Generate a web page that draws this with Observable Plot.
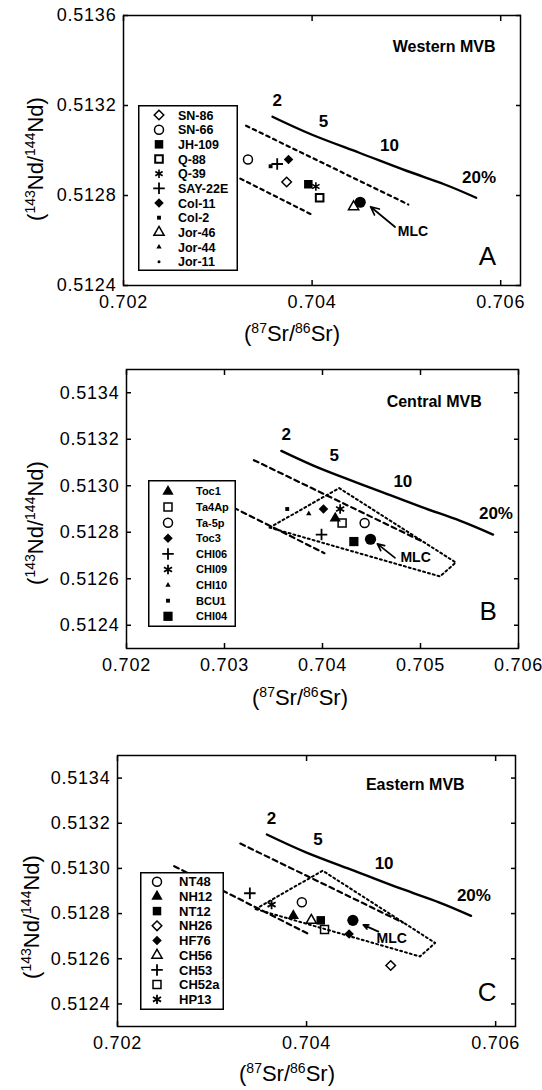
<!DOCTYPE html>
<html><head><meta charset="utf-8">
<script src="https://cdn.jsdelivr.net/npm/d3@7"></script>
<script src="https://cdn.jsdelivr.net/npm/@observablehq/plot@0.6"></script>
<style>
body{margin:0;background:#fff;}
#wrap{position:relative;width:542px;height:1090px;overflow:hidden;font-family:"Liberation Sans",Arial,sans-serif;background:#fff;}
.panel{position:absolute;left:0;}
.legend{position:absolute;overflow:visible;}
[aria-label="x-axis tick label"] text,[aria-label="y-axis tick label"] text{letter-spacing:0.8px;}
</style></head><body><div id="wrap"></div>
<script>
// ---------- shared model lines (87Sr/86Sr, 143Nd/144Nd) ----------
const curveSr = [0.70358, 0.70400, 0.70450, 0.70500, 0.70540, 0.70574];
const curveNd = [0.51315, 0.51307, 0.51299, 0.51291, 0.51285, 0.51279];
const mixLabels = ["2", "5", "10", "20%"];
const mixSr = [0.70363, 0.70412, 0.70482, 0.70577];
const mixNd = [0.51322, 0.51313, 0.51302, 0.51288];
const upperSr = [0.70330, 0.70502];
const upperNd = [0.51311, 0.51276];
const lowerSr = [0.70260, 0.70402];
const lowerNd = [0.51301, 0.51271];
const polySr = [0.70346, 0.70417, 0.70536, 0.70520, 0.70346];
const polyNd = [0.51282, 0.51299, 0.51267, 0.51261, 0.51282];

// ---------- Panel A : Western MVB ----------
const aSample = ["SN-86", "SN-66", "JH-109", "Q-88", "Q-39", "SAY-22E", "Col-11", "Col-2", "Jor-46", "MLC"];
const aSr = [0.70373, 0.70332, 0.70396, 0.70408, 0.70404, 0.70363, 0.70375, 0.70356, 0.70444, 0.70451];
const aNd = [0.51286, 0.51296, 0.51285, 0.51279, 0.51284, 0.51294, 0.51296, 0.51293, 0.51275, 0.51277];
const aLegend = ["SN-86", "SN-66", "JH-109", "Q-88", "Q-39", "SAY-22E", "Col-11", "Col-2", "Jor-46", "Jor-44", "Jor-11"];
const aXTicks = [0.702, 0.704, 0.706];
const aYTicks = [0.5124, 0.5128, 0.5132, 0.5136];

// ---------- Panel B : Central MVB ----------
const bSample = ["Toc1", "Ta4Ap", "Ta-5p", "Toc3", "CHI06", "CHI09", "CHI10", "BCU1", "CHI04", "MLC"];
const bSr = [0.70413, 0.70420, 0.70443, 0.70401, 0.70399, 0.70418, 0.70386, 0.70364, 0.70432, 0.70449];
const bNd = [0.51286, 0.51284, 0.51284, 0.51290, 0.51279, 0.51290, 0.51288, 0.51290, 0.51276, 0.51277];
const bLegend = ["Toc1", "Ta4Ap", "Ta-5p", "Toc3", "CHI06", "CHI09", "CHI10", "BCU1", "CHI04"];
const bXTicks = [0.702, 0.703, 0.704, 0.705, 0.706];
const bYTicks = [0.5124, 0.5126, 0.5128, 0.5130, 0.5132, 0.5134];

// ---------- Panel C : Eastern MVB ----------
const cSample = ["NT48", "NH12", "NT12", "NH26", "HF76", "CH56", "CH53", "CH52a", "HP13", "MLC"];
const cSr = [0.70395, 0.70386, 0.70415, 0.70489, 0.70445, 0.70405, 0.70340, 0.70419, 0.70363, 0.70449];
const cNd = [0.51285, 0.51279, 0.51277, 0.51257, 0.51271, 0.51277, 0.51289, 0.51273, 0.51284, 0.51277];
const cLegend = ["NT48", "NH12", "NT12", "NH26", "HF76", "CH56", "CH53", "CH52a", "HP13"];
const cXTicks = [0.702, 0.704, 0.706];
const cYTicks = [0.5124, 0.5126, 0.5128, 0.5130, 0.5132, 0.5134];

// MLC arrows and labels [label Sr, label Nd, arrow start Sr, Nd, arrow end Sr, Nd]
const aMLC = [0.70507, 0.51264, 0.70488, 0.51266, 0.70462, 0.51275];
const bMLC = [0.70495, 0.51269, 0.70474, 0.51269, 0.70456, 0.51275];
const cMLC = [0.70490, 0.51269, 0.70476, 0.51272, 0.70460, 0.51275];

const regionNames = ["Western MVB", "Central MVB", "Eastern MVB"];
const regionSr = [0.70540, 0.70514, 0.70515];
const regionNd = [0.51346, 0.51336, 0.51337];
const panelLetters = ["A", "B", "C"];
const letterSr = [0.70586, 0.70569, 0.70591];
const letterNd = [0.51253, 0.51246, 0.51245];

// ---------- symbol styles (by sample) ----------
const S = (symbol, filled, r, sw) => ({symbol, filled, r, sw: sw || 1.5});
const style = {
  "SN-86": S("diamond2", false, 4.3), "SN-66": S("circle", false, 4.5), "JH-109": S("square", true, 4.8),
  "Q-88": S("square", false, 4.3, 2), "Q-39": S("asterisk", false, 4, 1.6), "SAY-22E": S("plus", false, 3.8, 1.8),
  "Col-11": S("diamond2", true, 4.3), "Col-2": S("square", true, 2.2), "Jor-46": S("triangle", false, 3.8),
  "Jor-44": S("triangle", true, 2), "Jor-11": S("circle", true, 1.5),
  "Toc1": S("triangle", true, 4.2), "Ta4Ap": S("square", false, 4.5), "Ta-5p": S("circle", false, 4.5),
  "Toc3": S("diamond2", true, 4.3), "CHI06": S("plus", false, 3.8, 1.8), "CHI09": S("asterisk", false, 4.4, 1.8),
  "CHI10": S("triangle", true, 2), "BCU1": S("square", true, 2.2), "CHI04": S("square", true, 5.2),
  "NT48": S("circle", false, 4.5), "NH12": S("triangle", true, 4.2), "NT12": S("square", true, 4.8),
  "NH26": S("diamond2", false, 4.3), "HF76": S("diamond2", true, 4.3), "CH56": S("triangle", false, 3.8),
  "CH53": S("plus", false, 3.8, 1.8), "CH52a": S("square", false, 4.5), "HP13": S("asterisk", false, 4.4, 1.8),
  "MLC": S("circle", true, 5.6)
};

const FONT = "Liberation Sans, Arial, sans-serif";
const wrap = document.getElementById("wrap");

function pts(xs, ys) { return xs.map((x, i) => ({sr: x, nd: ys[i]})); }
const isFillShape = (sym) => sym === "square" || sym === "diamond2" || sym === "triangle" || sym === "circle";

function makePanel(cfg) {
  const rows = cfg.sample.map((s, i) => ({sample: s, sr: cfg.sr[i], nd: cfg.nd[i]}));
  const marks = [];
  if (cfg.poly) marks.push(Plot.line(pts(polySr, polyNd), {x: "sr", y: "nd", stroke: "black", strokeWidth: 2, strokeDasharray: "2,3"}));
  marks.push(Plot.line(pts(upperSr, upperNd), {x: "sr", y: "nd", stroke: "black", strokeWidth: 2.2, strokeDasharray: cfg.dash}));
  marks.push(Plot.line(pts(lowerSr, lowerNd), {x: "sr", y: "nd", stroke: "black", strokeWidth: 2.2, strokeDasharray: cfg.dash}));
  marks.push(Plot.line(pts(curveSr, curveNd), {x: "sr", y: "nd", stroke: "black", strokeWidth: 2.4, curve: "natural"}));
  marks.push(Plot.text(mixLabels.map((t, i) => ({t, sr: mixSr[i], nd: mixNd[i]})), {x: "sr", y: "nd", text: "t", fontSize: 17, fontWeight: "bold", fill: "black"}));
  for (const d of rows) {
    const st = style[d.sample];
    const filled = st.filled && isFillShape(st.symbol);
    marks.push(Plot.dot([d], {x: "sr", y: "nd", symbol: st.symbol, r: st.r,
      fill: filled ? "black" : "none", stroke: filled ? "none" : "black", strokeWidth: st.sw}));
  }
  const m = cfg.mlc;
  marks.push(Plot.arrow([{x1: m[2], y1: m[3], x2: m[4], y2: m[5]}], {x1: "x1", y1: "y1", x2: "x2", y2: "y2", stroke: "black", strokeWidth: 1.7, headLength: 8, headAngle: 50, bend: 0}));
  marks.push(Plot.text([{t: "MLC", sr: m[0], nd: m[1]}], {x: "sr", y: "nd", text: "t", fontSize: 14, fontWeight: "bold", fill: "black"}));
  marks.push(Plot.text([{t: regionNames[cfg.k], sr: regionSr[cfg.k], nd: regionNd[cfg.k]}], {x: "sr", y: "nd", text: "t", fontSize: 16, fontWeight: "bold", fill: "black"}));
  marks.push(Plot.text([{t: panelLetters[cfg.k], sr: letterSr[cfg.k], nd: letterNd[cfg.k]}], {x: "sr", y: "nd", text: "t", fontSize: 26, fill: "black"}));
  // axes
  const fx = d3.format(".3f"), fy = d3.format(".4f");
  marks.push(Plot.axisX({ticks: cfg.xTicks, anchor: "bottom", tickSize: 0, tickPadding: 10, tickFormat: fx, fontSize: 18, label: null}));
  marks.push(Plot.axisY({ticks: cfg.yTicks, anchor: "left", tickSize: 0, tickPadding: 7, tickFormat: fy, fontSize: 18, label: null}));
  for (const an of ["bottom", "top"]) marks.push(Plot.axisX({ticks: cfg.xTicks, anchor: an, tickSize: -5, strokeWidth: 1.5, tickFormat: () => "", label: null}));
  for (const an of ["left", "right"]) marks.push(Plot.axisY({ticks: cfg.yTicks, anchor: an, tickSize: -5, strokeWidth: 1.5, tickFormat: () => "", label: null}));
  marks.push(Plot.frame({stroke: "black", strokeWidth: 1.5}));

  const svg = Plot.plot({
    width: 542, height: cfg.height,
    marginTop: cfg.mt, marginBottom: cfg.mb, marginLeft: cfg.ml, marginRight: cfg.mr,
    x: {domain: cfg.xDomain, label: null},
    y: {domain: cfg.yDomain, label: null},
    style: {fontFamily: FONT, fontSize: "18px", color: "black", background: "transparent", overflow: "visible"},
    marks
  });
  svg.classList.add("panel");
  svg.style.top = cfg.top + "px";
  wrap.appendChild(svg);

  // axis titles with superscripts
  const s = d3.select(svg);
  const fs = 22, sup = 14, shift = 8;
  const xt = s.append("text").attr("x", cfg.xl[0]).attr("y", cfg.xl[1] + 0.35 * fs)
    .attr("text-anchor", "middle").attr("font-family", FONT).attr("font-size", fs).attr("fill", "black");
  xt.append("tspan").text("(");
  xt.append("tspan").attr("font-size", sup).attr("dy", -shift).text("87");
  xt.append("tspan").attr("dy", shift).text("Sr/");
  xt.append("tspan").attr("font-size", sup).attr("dy", -shift).text("86");
  xt.append("tspan").attr("dy", shift).text("Sr)");
  const yt = s.append("text").attr("transform", `translate(${cfg.yl[0] + 0.35 * fs},${cfg.yl[1]}) rotate(-90)`)
    .attr("text-anchor", "middle").attr("font-family", FONT).attr("font-size", fs).attr("fill", "black");
  yt.append("tspan").text("(");
  yt.append("tspan").attr("font-size", sup).attr("dy", -shift).text("143");
  yt.append("tspan").attr("dy", shift).text("Nd/");
  yt.append("tspan").attr("font-size", sup).attr("dy", -shift).text("144");
  yt.append("tspan").attr("dy", shift).text("Nd)");
}

const d3sym = {circle: d3.symbolCircle, square: d3.symbolSquare, diamond2: d3.symbolDiamond2,
  asterisk: d3.symbolAsterisk, plus: d3.symbolPlus, triangle: d3.symbolTriangle};

function makeLegend(L, names) {
  const svg = d3.select(wrap).append("svg").attr("class", "legend")
    .style("left", L.left + "px").style("top", L.top + "px")
    .attr("width", L.w).attr("height", L.h);
  svg.append("rect").attr("x", 0.75).attr("y", 0.75).attr("width", L.w - 1.5).attr("height", L.h - 1.5)
    .attr("fill", "white").attr("stroke", "black").attr("stroke-width", 1.5);
  names.forEach((n, i) => {
    const st = style[n];
    const cy = L.fy + i * L.rowH;
    const filled = st.filled && isFillShape(st.symbol);
    svg.append("path").attr("transform", `translate(${L.sx},${cy})`)
      .attr("d", d3.symbol(d3sym[st.symbol], Math.PI * st.r * st.r)())
      .attr("fill", filled ? "black" : "none").attr("stroke", filled ? "none" : "black").attr("stroke-width", st.sw);
    svg.append("text").attr("x", L.tx).attr("y", cy).attr("dy", "0.36em")
      .attr("font-family", FONT).attr("font-size", L.fs).attr("font-weight", "bold").attr("fill", "black").text(n);
  });
}

makePanel({k: 0, sample: aSample, sr: aSr, nd: aNd, top: 0, height: 350, mt: 15, mb: 65, ml: 123, mr: 22,
  xDomain: [0.702, 0.70621], yDomain: [0.5124, 0.5136], xTicks: aXTicks, yTicks: aYTicks,
  mlc: aMLC, poly: false, dash: "3.5,4", xl: [292, 333], yl: [35, 159]});
makePanel({k: 1, sample: bSample, sr: bSr, nd: bNd, top: 350, height: 370, mt: 19, mb: 72, ml: 126, mr: 24,
  xDomain: [0.702, 0.706], yDomain: [0.5123, 0.5135], xTicks: bXTicks, yTicks: bYTicks,
  mlc: bMLC, poly: true, dash: "5,4", xl: [300, 347], yl: [35, 173]});
makePanel({k: 2, sample: cSample, sr: cSr, nd: cNd, top: 720, height: 370, mt: 35, mb: 64, ml: 117, mr: 27,
  xDomain: [0.702, 0.70621], yDomain: [0.5123, 0.5135], xTicks: cXTicks, yTicks: cYTicks,
  mlc: cMLC, poly: true, dash: "5,4", xl: [287, 353], yl: [31, 197]});

makeLegend({left: 138, top: 105, w: 100, h: 166, sx: 21, tx: 40, fy: 10, rowH: 14.67, fs: 12.5}, aLegend);
makeLegend({left: 148, top: 480, w: 88, h: 147, sx: 20, tx: 48, fy: 11.5, rowH: 15.6, fs: 11}, bLegend);
makeLegend({left: 140, top: 872, w: 84, h: 138, sx: 17, tx: 39, fy: 9.7, rowH: 14.7, fs: 13}, cLegend);
</script></body></html>
